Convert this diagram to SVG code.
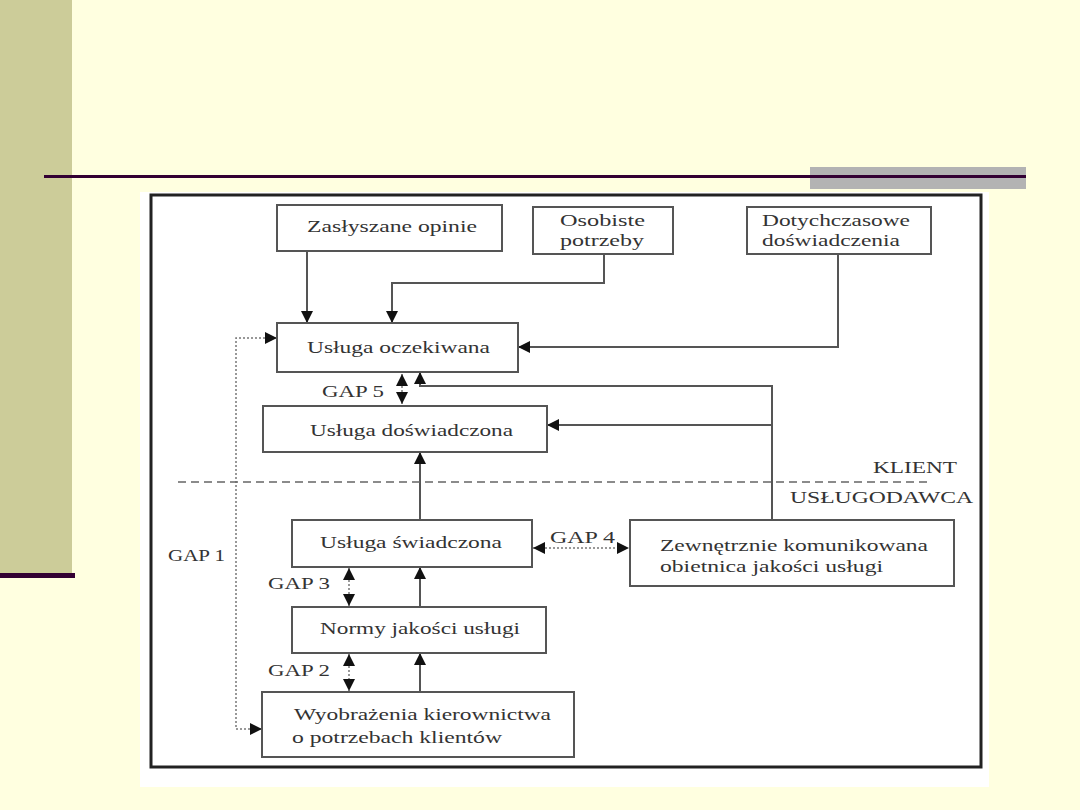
<svg xmlns="http://www.w3.org/2000/svg" width="1080" height="810" viewBox="0 0 1080 810">
<defs>
<style>
.box{fill:#fff;stroke:#555;stroke-width:2}
.t{font-family:"Liberation Serif","Times New Roman",serif;font-size:16px;fill:#333}
.c{fill:none;stroke:#555;stroke-width:2}
.d{fill:none;stroke:#777;stroke-width:1.5;stroke-dasharray:2 2}
.dash{fill:none;stroke:#666;stroke-width:1.5;stroke-dasharray:8 5}
</style>
<marker id="ah" markerUnits="userSpaceOnUse" markerWidth="14" markerHeight="14" refX="12" refY="6" orient="auto">
<path d="M0,0 L12,6 L0,12 Z" fill="#111"/>
</marker>
<marker id="as" markerUnits="userSpaceOnUse" markerWidth="14" markerHeight="14" refX="12" refY="6" orient="auto-start-reverse">
<path d="M0,0 L12,6 L0,12 Z" fill="#111"/>
</marker>
</defs>
<rect width="1080" height="810" fill="#FFFFE0"/>
<rect x="0" y="0" width="72" height="575" fill="#CCCC99"/>
<rect x="0" y="573" width="75" height="5" fill="#330033"/>
<rect x="810" y="167" width="216" height="22" fill="#B3B3B3"/>
<rect x="44" y="175" width="982" height="3" fill="#330033"/>
<rect x="140" y="192" width="849" height="595" fill="#fff"/>
<rect x="151" y="195" width="830" height="572" fill="none" stroke="#222" stroke-width="3"/>

<g id="connectors">
<path class="c" d="M307,251 V323" marker-end="url(#ah)"/>
<path class="c" d="M604,254 V283 H392 V323" marker-end="url(#ah)"/>
<path class="c" d="M838,254 V347 H518" marker-end="url(#ah)"/>
<path class="c" d="M772,520 V386 H420 V372" marker-end="url(#ah)"/>
<path class="c" d="M772,425 H547" marker-end="url(#ah)"/>
<path class="c" d="M420,520 V452" marker-end="url(#ah)"/>
<path class="c" d="M420,607 V567" marker-end="url(#ah)"/>
<path class="c" d="M420,692 V653" marker-end="url(#ah)"/>
<path class="d" d="M402,374 V404" marker-start="url(#as)" marker-end="url(#ah)"/>
<path class="d" d="M349,568 V606" marker-start="url(#as)" marker-end="url(#ah)"/>
<path class="d" d="M349,654 V691" marker-start="url(#as)" marker-end="url(#ah)"/>
<path class="d" d="M533,548 H629" marker-start="url(#as)" marker-end="url(#ah)"/>
<path class="d" d="M277,338 H236 V729 H262" marker-start="url(#as)" marker-end="url(#ah)"/>
<path class="dash" d="M178,482 H930"/>
</g>

<g id="n-zaslyszane"><rect class="box" x="277" y="205" width="225" height="46"/><text class="t" x="307" y="232" textLength="170" lengthAdjust="spacingAndGlyphs">Zasłyszane opinie</text></g>
<g id="n-osobiste"><rect class="box" x="533" y="207" width="140" height="47"/><text class="t" x="560" y="226" textLength="85" lengthAdjust="spacingAndGlyphs">Osobiste</text><text class="t" x="560" y="246" textLength="84" lengthAdjust="spacingAndGlyphs">potrzeby</text></g>
<g id="n-dotychczasowe"><rect class="box" x="747" y="207" width="184" height="47"/><text class="t" x="762" y="226" textLength="148" lengthAdjust="spacingAndGlyphs">Dotychczasowe</text><text class="t" x="762" y="246" textLength="138" lengthAdjust="spacingAndGlyphs">doświadczenia</text></g>
<g id="n-oczekiwana"><rect class="box" x="277" y="323" width="241" height="49"/><text class="t" x="307" y="353" textLength="183" lengthAdjust="spacingAndGlyphs">Usługa oczekiwana</text></g>
<g id="n-doswiadczona"><rect class="box" x="263" y="406" width="284" height="46"/><text class="t" x="310" y="436" textLength="203" lengthAdjust="spacingAndGlyphs">Usługa doświadczona</text></g>
<g id="n-swiadczona"><rect class="box" x="292" y="520" width="240" height="47"/><text class="t" x="320" y="548" textLength="182" lengthAdjust="spacingAndGlyphs">Usługa świadczona</text></g>
<g id="n-normy"><rect class="box" x="292" y="607" width="254" height="46"/><text class="t" x="320" y="634" textLength="200" lengthAdjust="spacingAndGlyphs">Normy jakości usługi</text></g>
<g id="n-wyobrazenia"><rect class="box" x="262" y="692" width="312" height="65"/><text class="t" x="294" y="720" textLength="257" lengthAdjust="spacingAndGlyphs">Wyobrażenia kierownictwa</text><text class="t" x="292" y="743" textLength="210" lengthAdjust="spacingAndGlyphs">o potrzebach klientów</text></g>
<g id="n-zewnetrznie"><rect class="box" x="630" y="520" width="324" height="66"/><text class="t" x="660" y="551" textLength="268" lengthAdjust="spacingAndGlyphs">Zewnętrznie komunikowana</text><text class="t" x="660" y="572" textLength="223" lengthAdjust="spacingAndGlyphs">obietnica jakości usługi</text></g>

<g id="labels">
<text class="t" x="873" y="473" textLength="84" lengthAdjust="spacingAndGlyphs">KLIENT</text>
<text class="t" x="790" y="503" textLength="183" lengthAdjust="spacingAndGlyphs">USŁUGODAWCA</text>
<text class="t" x="322" y="397" textLength="62" lengthAdjust="spacingAndGlyphs">GAP 5</text>
<text class="t" x="168" y="561" textLength="57" lengthAdjust="spacingAndGlyphs">GAP 1</text>
<text class="t" x="268" y="589" textLength="62" lengthAdjust="spacingAndGlyphs">GAP 3</text>
<text class="t" x="268" y="676" textLength="62" lengthAdjust="spacingAndGlyphs">GAP 2</text>
<text class="t" x="550" y="543" textLength="65" lengthAdjust="spacingAndGlyphs">GAP 4</text>
</g>
</svg>
